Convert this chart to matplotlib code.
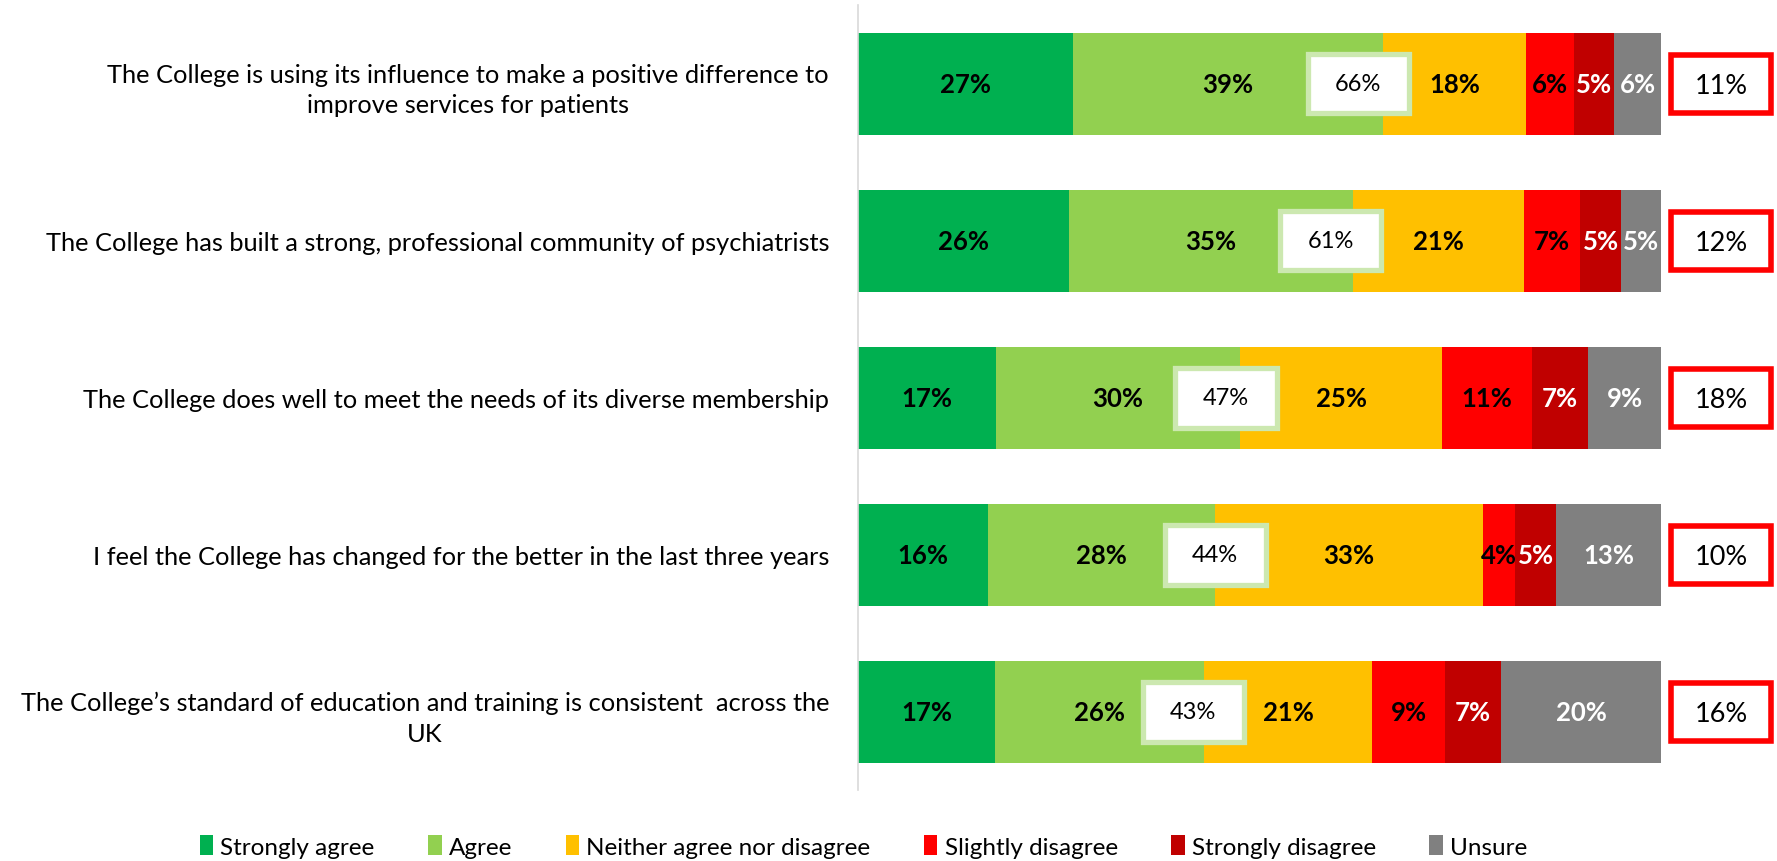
import matplotlib
matplotlib.use("Agg")
import matplotlib.pyplot as plt
from matplotlib.patches import Rectangle
import numpy as np

# -----------------------------
# Data
# -----------------------------
statements = [
    "The College is using its influence to make a positive difference to\nimprove services for patients",
    "The College has built a strong, professional community of psychiatrists",
    "The College does well to meet the needs of its diverse membership",
    "I feel the College has changed for the better in the last three years",
    "The College\u2019s standard of education and training is consistent  across the\nUK",
]
series_names = ["Strongly agree", "Agree", "Neither agree nor disagree",
                "Slightly disagree", "Strongly disagree", "Unsure"]
strongly_agree = [27, 26, 17, 16, 17]
agree = [39, 35, 30, 28, 26]
neither = [18, 21, 25, 33, 21]
slightly_disagree = [6, 7, 11, 4, 9]
strongly_disagree = [5, 5, 7, 5, 7]
unsure = [6, 5, 9, 13, 20]
net_agree = [66, 61, 47, 44, 43]
net_disagree = [11, 12, 18, 10, 16]

colors = ["#00B050", "#92D050", "#FFC000", "#FF0000", "#C00000", "#808080"]
label_colors = ["black", "black", "black", "black", "white", "white"]
# net agree boxes sit a little left of the agree/neither edge in the original
box_shift = [-3.1, -2.8, -1.7, 0.0, -1.3]

plt.rcParams["font.family"] = ["Lato", "DejaVu Sans"]

# -----------------------------
# Figure
# -----------------------------
fig = plt.figure(figsize=(17.77, 8.62), dpi=100)
ax = fig.add_axes([0.483, 0.082, 0.452, 0.911])

data = np.array([strongly_agree, agree, neither, slightly_disagree,
                 strongly_disagree, unsure], dtype=float)
# bars are drawn as shares of 100%
data = data / data.sum(axis=0) * 100
raw = [strongly_agree, agree, neither, slightly_disagree, strongly_disagree, unsure]

y = np.arange(len(statements))
left = np.zeros(len(statements))
for i, name in enumerate(series_names):
    ax.barh(y, data[i], left=left, height=0.65, color=colors[i], label=name)
    for j in range(len(statements)):
        ax.text(left[j] + data[i][j] / 2, y[j], f"{raw[i][j]}%", ha="center",
                va="center", fontsize=18.5, fontweight="bold", color=label_colors[i])
    left += data[i]

# net agree boxes near the agree / neither boundary
agree_edge = data[0] + data[1]
for j in range(len(statements)):
    cx = agree_edge[j] + box_shift[j]
    ax.add_patch(Rectangle((cx - 6.3, y[j] - 0.19), 12.6, 0.38,
                           facecolor="white", edgecolor="#CCE8B0", linewidth=3.8,
                           zorder=3))
    ax.text(cx, y[j], f"{net_agree[j]}%", ha="center", va="center",
            fontsize=17, color="black", zorder=4)

# net disagree boxes to the right of the bars
for j in range(len(statements)):
    ax.add_patch(Rectangle((101.2, y[j] - 0.185), 12.4, 0.37, facecolor="white",
                           edgecolor="#FF0000", linewidth=4.0, clip_on=False,
                           zorder=3))
    ax.text(107.4, y[j] + 0.01, f"{net_disagree[j]}%", ha="center", va="center",
            fontsize=19.5, color="black", zorder=4)

ax.set_xlim(0, 100)
ax.set_ylim(4.5, -0.5)
ax.set_xticks([])
ax.set_yticks(y)
ax.set_yticklabels(statements, fontsize=18.3, multialignment="center", linespacing=1.4)
ax.tick_params(axis="y", length=0, pad=21)
for side in ["top", "right", "bottom"]:
    ax.spines[side].set_visible(False)
ax.spines["left"].set_color("#D9D9D9")
ax.spines["left"].set_linewidth(1.2)

handles, labels = ax.get_legend_handles_labels()
fig.legend(handles, labels, loc="center", bbox_to_anchor=(0.486, 0.017), ncol=6,
           frameon=False, fontsize=17.5, handlelength=0.55, handleheight=0.9,
           handletextpad=0.3, columnspacing=2.2)

plt.savefig("out.png", dpi=100)
plt.close()
